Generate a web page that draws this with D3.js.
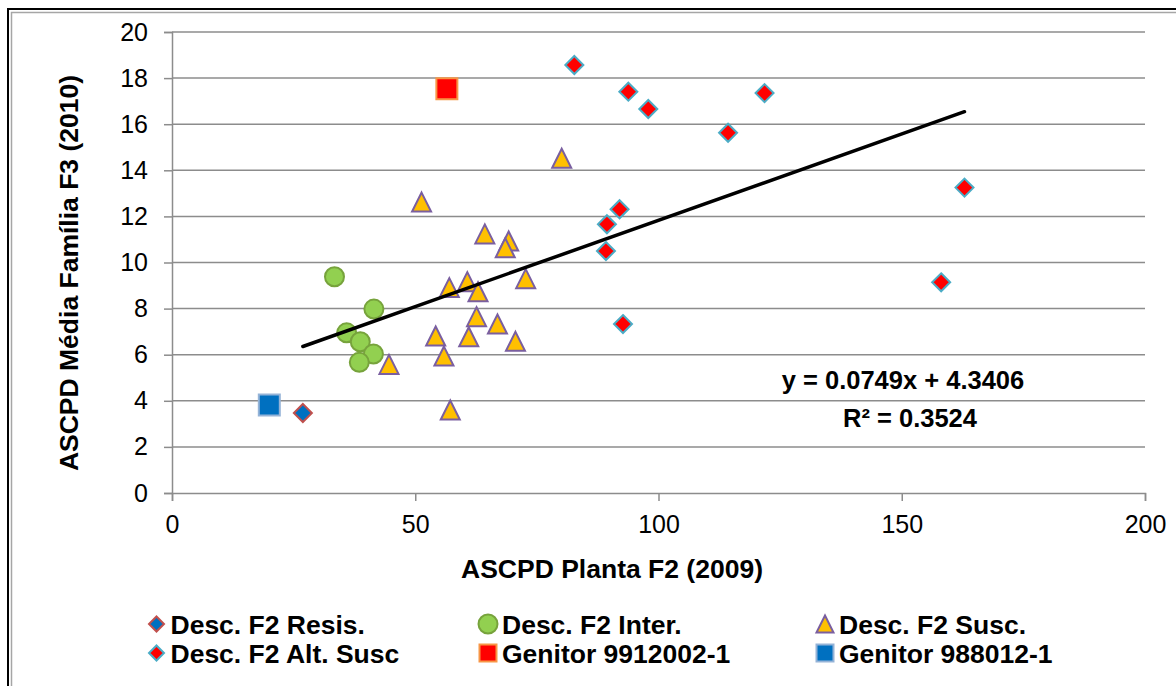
<!DOCTYPE html>
<html lang="pt">
<head>
<meta charset="UTF-8">
<title>ASCPD F2 x F3</title>
<script src="https://cdn.jsdelivr.net/npm/d3@7"></script>
<style>
  body { margin: 0; background: #fff; }
  text { font-family: Arial, "Liberation Sans", sans-serif; }
</style>
</head>
<body>
<div id="chart"></div>
<script>
// values
const resisX = [26.9];
const resisY = [3.47];

const interX = [33.4, 41.5, 35.9, 38.7, 41.4, 38.5];
const interY = [9.38, 7.98, 6.95, 6.56, 6.03, 5.67];

const suscX = [51.3, 80.1, 64.3, 69.2, 68.5, 57.0, 60.7, 62.9, 62.6, 54.2, 61.0, 55.9, 44.6, 57.2, 66.9, 72.7, 70.6];
const suscY = [12.62, 14.52, 11.24, 10.93, 10.64, 8.91, 9.17, 8.73, 7.65, 6.81, 6.78, 5.94, 5.58, 3.60, 7.33, 9.30, 6.58];

const altX = [82.7, 93.8, 97.9, 121.8, 114.3, 162.9, 92.0, 89.4, 89.2, 158.1, 92.7];
const altY = [18.57, 17.41, 16.66, 17.35, 15.63, 13.25, 12.31, 11.66, 10.50, 9.14, 7.33];

const gen1X = [56.5];   // Genitor 9912002-1
const gen1Y = [17.54];
const gen2X = [20.0];   // Genitor 988012-1
const gen2Y = [3.82];

const slope = 0.0749, intercept = 4.3406, r2 = 0.3524;

const xTicks = [0, 50, 100, 150, 200];
const yTicks = [0, 2, 4, 6, 8, 10, 12, 14, 16, 18, 20];

const W = 1176, H = 686;
const mLeft = 172, mRight = 1145, mTop = 32, mBottom = 493;

const svg = d3.select("#chart").append("svg")
    .attr("width", W).attr("height", H);

svg.append("rect").attr("width", W).attr("height", H).attr("fill", "#fff");

// double frame (extends past the page edge like the original)
svg.append("rect").attr("x", 8).attr("y", 9).attr("width", 1300).attr("height", 800)
    .attr("fill", "none").attr("stroke", "#000").attr("stroke-width", 2);
svg.append("rect").attr("x", 11.5).attr("y", 12.5).attr("width", 1300).attr("height", 800)
    .attr("fill", "none").attr("stroke", "#a6a6a6").attr("stroke-width", 1.5);

const x = d3.scaleLinear().domain([0, 200]).range([mLeft, mRight]);
const y = d3.scaleLinear().domain([0, 20]).range([mBottom, mTop]);

const grid = "#8c8c8c";

// horizontal gridlines
svg.append("g").selectAll("line").data(yTicks.slice(1)).join("line")
    .attr("x1", mLeft).attr("x2", mRight)
    .attr("y1", d => y(d)).attr("y2", d => y(d))
    .attr("stroke", grid).attr("stroke-width", 1.5);

// y axis
const yAxis = svg.append("g").attr("transform", `translate(${mLeft},0)`)
    .call(d3.axisLeft(y).tickValues(yTicks).tickSize(8).tickPadding(16));
yAxis.select(".domain").attr("stroke", grid).attr("stroke-width", 1.5);
yAxis.selectAll(".tick line").attr("stroke", grid).attr("stroke-width", 1.5);
yAxis.selectAll(".tick text").attr("font-size", 25).attr("fill", "#000")
    .attr("font-family", "Arial, 'Liberation Sans', sans-serif");

// x axis
const xAxis = svg.append("g").attr("transform", `translate(0,${mBottom})`)
    .call(d3.axisBottom(x).tickValues(xTicks).tickSize(8).tickPadding(14));
xAxis.select(".domain").attr("stroke", grid).attr("stroke-width", 1.5);
xAxis.selectAll(".tick line").attr("stroke", grid).attr("stroke-width", 1.5);
xAxis.selectAll(".tick text").attr("font-size", 25).attr("fill", "#000")
    .attr("font-family", "Arial, 'Liberation Sans', sans-serif");

// marker shapes
function diamond(s) { const h = s / 2; return `M0,${-h}L${h},0L0,${h}L${-h},0Z`; }
function square(s) { const h = s / 2; return `M${-h},${-h}H${h}V${h}H${-h}Z`; }
function triangle(s) { const h = s / 2; return `M0,${-h}L${h},${h}L${-h},${h}Z`; }
function circle(s) { const r = s / 2; return `M${r},0A${r},${r} 0 1,1 ${-r},0A${r},${r} 0 1,1 ${r},0Z`; }

const series = [
  {name: "Desc. F2 Resis.", xs: resisX, ys: resisY, shape: diamond, size: 18, lsize: 15, fill: "#0070c0", stroke: "#c0504d"},
  {name: "Desc. F2 Inter.", xs: interX, ys: interY, shape: circle, size: 19, lsize: 19, fill: "#92d050", stroke: "#77a33c"},
  {name: "Desc. F2 Susc.", xs: suscX, ys: suscY, shape: triangle, size: 19, lsize: 17, fill: "#ffc000", stroke: "#7a5fa0"},
  {name: "Desc. F2 Alt. Susc", xs: altX, ys: altY, shape: diamond, size: 18, lsize: 15, fill: "#ff0000", stroke: "#4bacc6"},
  {name: "Genitor 9912002-1", xs: gen1X, ys: gen1Y, shape: square, size: 21, lsize: 17, fill: "#ff0000", stroke: "#f79646"},
  {name: "Genitor 988012-1", xs: gen2X, ys: gen2Y, shape: square, size: 21, lsize: 17, fill: "#0070c0", stroke: "#95b3d7"}
];

// trend line over the descendant series
const allX = [].concat(resisX, interX, suscX, altX);
const x0 = d3.min(allX), x1 = d3.max(allX);

series.forEach((s, i) => {
  if (i === 3) {
    svg.append("line")
      .attr("x1", x(x0)).attr("y1", y(slope * x0 + intercept))
      .attr("x2", x(x1)).attr("y2", y(slope * x1 + intercept))
      .attr("stroke", "#000").attr("stroke-width", 3.5).attr("stroke-linecap", "round");
  }
  svg.append("g").selectAll("path").data(s.xs.map((v, k) => [v, s.ys[k]])).join("path")
    .attr("transform", d => `translate(${x(d[0])},${y(d[1])})`)
    .attr("d", s.shape(s.size))
    .attr("fill", s.fill).attr("stroke", s.stroke).attr("stroke-width", 2);
});

// equation
const eq = svg.append("text").attr("font-family", "'Open Sans', sans-serif")
    .attr("font-weight", "bold").attr("font-size", 25.5).attr("text-anchor", "middle");
eq.append("tspan").attr("x", 903).attr("y", 389)
    .text(`y = ${slope}x + ${intercept}`);
eq.append("tspan").attr("x", 910).attr("y", 427)
    .text(`R² = ${r2}`);

// axis titles
svg.append("text").attr("x", 612).attr("y", 578).attr("text-anchor", "middle")
    .attr("font-weight", "bold").attr("font-size", 26.5)
    .text("ASCPD Planta F2 (2009)");

svg.append("text").attr("transform", "translate(78,273) rotate(-90)")
    .attr("text-anchor", "middle").attr("font-weight", "bold").attr("font-size", 26.5)
    .text("ASCPD Média Família F3 (2010)");

// legend
const colX = [156.5, 488, 825];
const rowY = [624, 653];
const legendOrder = [0, 1, 2, 3, 4, 5];
const lg = svg.append("g").selectAll("g").data(legendOrder).join("g")
    .attr("transform", (d, i) => `translate(${colX[i % 3]},${rowY[Math.floor(i / 3)]})`);
lg.append("path")
    .attr("d", d => series[d].shape(series[d].lsize))
    .attr("fill", d => series[d].fill).attr("stroke", d => series[d].stroke).attr("stroke-width", 2);
lg.append("text").attr("x", 14).attr("y", 9.5)
    .attr("font-weight", "bold").attr("font-size", 26.5)
    .text(d => series[d].name);
</script>
</body>
</html>
